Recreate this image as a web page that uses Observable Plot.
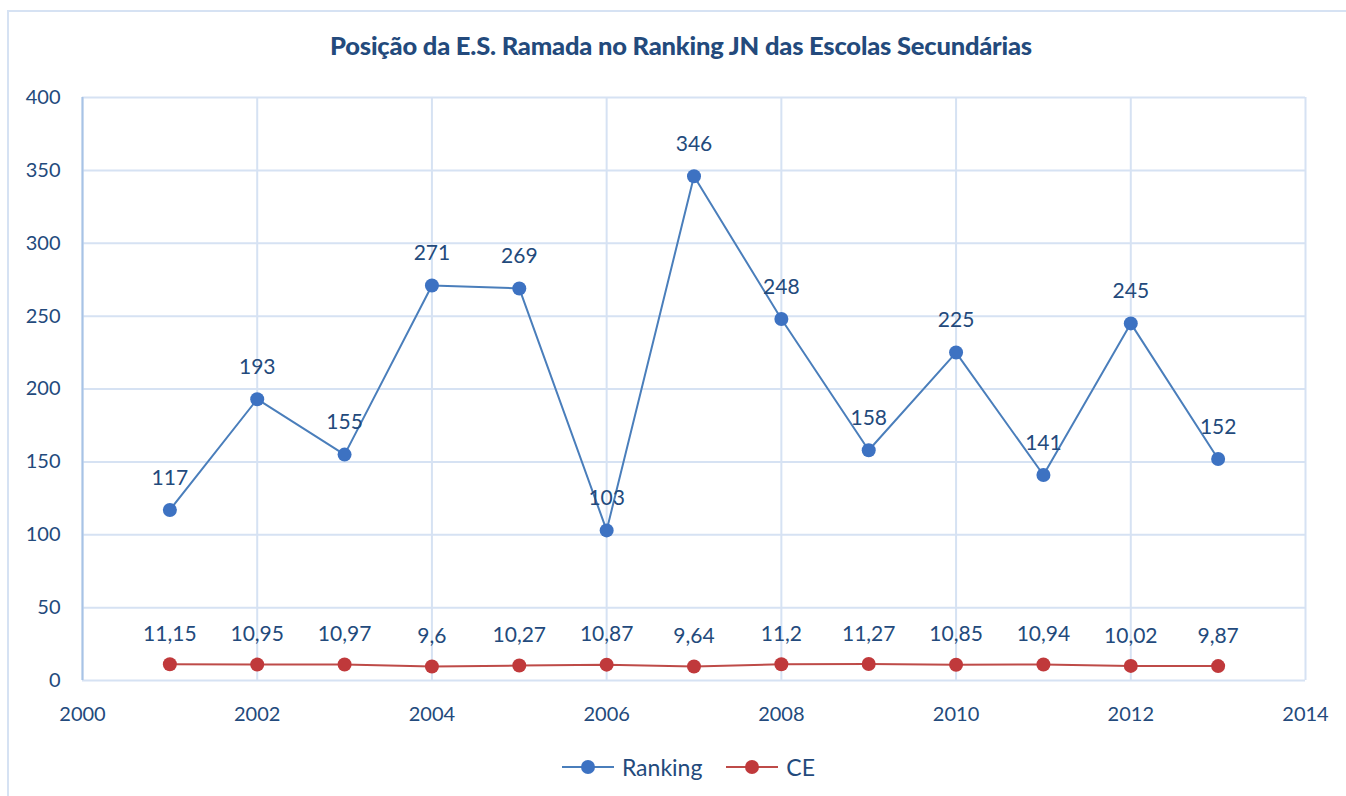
<!DOCTYPE html>
<html><head><meta charset="utf-8">
<script src="https://cdn.jsdelivr.net/npm/d3@7"></script>
<script src="https://cdn.jsdelivr.net/npm/@observablehq/plot@0.6"></script>
<style>
body{margin:0;background:#fff;font-family:Lato,"Open Sans",sans-serif;}
#wrap{position:relative;width:1346px;height:796px;overflow:hidden;background:#fff;}
#border{position:absolute;left:7px;top:10px;width:1400px;height:900px;border:2px solid #d6e2f3;box-sizing:border-box;}
#chart{position:absolute;left:0;top:0;}
#title{position:absolute;top:30px;left:0;width:1362px;text-align:center;font-weight:900;font-size:25.5px;color:#234a7c;letter-spacing:-0.2px;}
#legend{position:absolute;top:752px;left:560px;display:flex;align-items:center;font-size:23px;color:#234a7c;}
#legend span{margin-right:22px;}
</style></head>
<body>
<div id="wrap">
  <div id="border"></div>
  <div id="chart"></div>
  <div id="title">Posição da E.S. Ramada no Ranking JN das Escolas Secundárias</div>
  <div id="legend">
    <svg width="56" height="30"><line x1="2" x2="54" y1="15" y2="15" stroke="#4a7ebb" stroke-width="2"/><circle cx="28" cy="15" r="7" fill="#3d72c2"/></svg><span>&nbsp;Ranking</span>
    <svg width="56" height="30"><line x1="2" x2="54" y1="15" y2="15" stroke="#be4b48" stroke-width="2"/><circle cx="28" cy="15" r="7" fill="#c0393b"/></svg><span>&nbsp;CE</span>
  </div>
</div>
<script>
const years = [2001,2002,2003,2004,2005,2006,2007,2008,2009,2010,2011,2012,2013];
const ranking = [117,193,155,271,269,103,346,248,158,225,141,245,152];
const ce = [11.15,10.95,10.97,9.6,10.27,10.87,9.64,11.2,11.27,10.85,10.94,10.02,9.87];
const xTicks = [2000,2002,2004,2006,2008,2010,2012,2014];
const yTicks = [0,50,100,150,200,250,300,350,400];

const rData = years.map((y,i)=>({year:y, value:ranking[i], label:String(ranking[i])}));
const cData = years.map((y,i)=>({year:y, value:ce[i], label:String(ce[i]).replace(".", ",")}));

const textColor = "#234a7c";
const gridColor = "#d6e2f3";

const chart = Plot.plot({
  width:1346, height:796,
  marginLeft:82, marginRight:41, marginTop:97, marginBottom:116,
  style:{fontFamily:'Lato,"Open Sans",sans-serif', fontSize:"20px", color:textColor, background:"transparent"},
  x:{domain:[2000,2014]},
  y:{domain:[0,400]},
  marks:[
    Plot.gridX(xTicks,{stroke:gridColor, strokeOpacity:1, strokeWidth:2}),
    Plot.gridY(yTicks,{stroke:gridColor, strokeOpacity:1, strokeWidth:2}),
    Plot.ruleX([2000],{stroke:"#a8c3e6", strokeWidth:2}),
    Plot.axisX(xTicks,{tickSize:0, tickPadding:26, tickFormat:d=>String(d), fontSize:20, fill:textColor, label:null}),
    Plot.axisY(yTicks,{tickSize:0, tickPadding:22, fontSize:20, fill:textColor, label:null}),
    Plot.line(rData,{x:"year", y:"value", stroke:"#4a7ebb", strokeWidth:2}),
    Plot.line(cData,{x:"year", y:"value", stroke:"#be4b48", strokeWidth:2}),
    Plot.dot(rData,{x:"year", y:"value", r:7, fill:"#3d72c2", stroke:"none"}),
    Plot.dot(cData,{x:"year", y:"value", r:7, fill:"#c0393b", stroke:"none"}),
    Plot.text(rData,{x:"year", y:"value", text:"label", dy:-32, fontSize:21, fill:textColor}),
    Plot.text(cData,{x:"year", y:"value", text:"label", dy:-30, fontSize:21, fill:textColor})
  ]
});
document.getElementById("chart").appendChild(chart);
</script>
</body></html>
